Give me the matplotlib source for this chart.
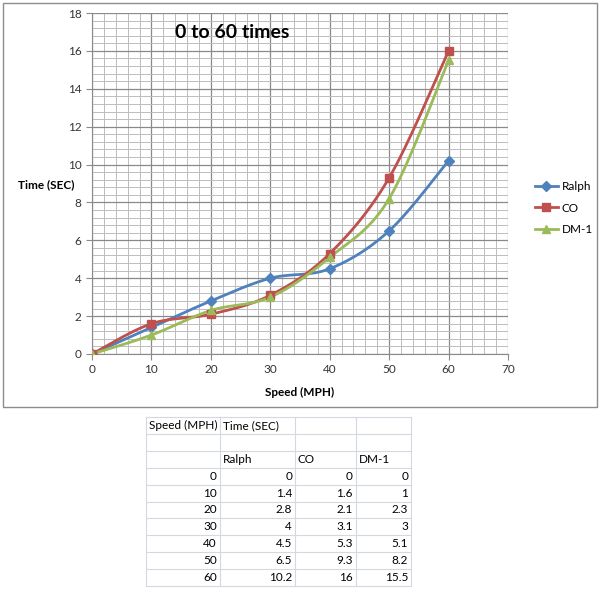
import numpy as np
import matplotlib
matplotlib.use("Agg")
import matplotlib.pyplot as plt
from matplotlib.patches import Rectangle

plt.rcParams['font.family'] = ['Lato', 'DejaVu Sans']

# data from the sheet
speed = [0, 10, 20, 30, 40, 50, 60]
ralph = [0, 1.4, 2.8, 4, 4.5, 6.5, 10.2]
co = [0, 1.6, 2.1, 3.1, 5.3, 9.3, 16]
dm1 = [0, 1, 2.3, 3, 5.1, 8.2, 15.5]
series_names = ['Ralph', 'CO', 'DM-1']
colors = ['#4F81BD', '#C0504D', '#9BBB59']
markers = ['D', 's', '^']


def smooth(x, y, n=30):
    # Excel style smoothed line (Catmull-Rom / bezier through the points)
    x = np.asarray(x, float)
    y = np.asarray(y, float)
    px = np.concatenate([[x[0]], x, [x[-1]]])
    py = np.concatenate([[y[0]], y, [y[-1]]])
    xs, ys = [], []
    for i in range(1, len(px) - 2):
        p0 = np.array([px[i], py[i]])
        p3 = np.array([px[i + 1], py[i + 1]])
        p1 = p0 + (np.array([px[i + 1], py[i + 1]]) - np.array([px[i - 1], py[i - 1]])) / 6
        p2 = p3 - (np.array([px[i + 2], py[i + 2]]) - np.array([px[i], py[i]])) / 6
        t = np.linspace(0, 1, n)[:, None]
        pts = (1 - t) ** 3 * p0 + 3 * (1 - t) ** 2 * t * p1 + 3 * (1 - t) * t ** 2 * p2 + t ** 3 * p3
        xs.extend(pts[:, 0])
        ys.extend(pts[:, 1])
    return xs, ys


W, H = 603, 600
fig = plt.figure(figsize=(W / 100, H / 100), dpi=100)

# background layer in pixel coords (chart frame + sheet table)
bg = fig.add_axes([0, 0, 1, 1])
bg.set_xlim(0, W)
bg.set_ylim(H, 0)
bg.axis('off')
bg.add_patch(Rectangle((3, 3), 594, 404, fill=False, edgecolor='#8c8c8c', lw=1))

# table
col_x = [146, 220, 295, 356, 411]
row_h = 16.9
top = 417
n_rows = 10
for i in range(n_rows + 1):
    bg.plot([col_x[0], col_x[-1]], [top + i * row_h] * 2, color='#d4d8e0', lw=0.8)
for cx in col_x:
    bg.plot([cx, cx], [top, top + n_rows * row_h], color='#d4d8e0', lw=0.8)
fs = 8.5
bg.text(col_x[0] + 3, top + row_h / 2, 'Speed (MPH)', va='center', fontsize=fs)
bg.text(col_x[1] + 3, top + row_h / 2, 'Time (SEC)', va='center', fontsize=fs)
for j, name in enumerate(series_names):
    bg.text(col_x[j + 1] + 3, top + 2.5 * row_h, name, va='center', fontsize=fs)
for i, s in enumerate(speed):
    yy = top + (3.5 + i) * row_h
    row = [s, ralph[i], co[i], dm1[i]]
    for j, v in enumerate(row):
        bg.text(col_x[j + 1] - 3, yy, f'{v:g}', va='center', ha='right', fontsize=fs)

# chart
ax = fig.add_axes([92 / W, 1 - 354 / H, (508 - 92) / W, (354 - 13) / H])
for ys, name, c, m in zip([ralph, co, dm1], series_names, colors, markers):
    ms = 5 if m == 'D' else 6
    sx, sy = smooth(speed, ys)
    ax.plot(sx, sy, color=c, lw=2, zorder=3)
    ax.plot(speed, ys, ls='none', marker=m, color=c, ms=ms, zorder=4)
    ax.plot([], [], color=c, lw=2, marker=m, ms=ms, label=name)

ax.set_xlim(0, 70)
ax.set_ylim(0, 18)
ax.set_xticks(np.arange(0, 71, 10))
ax.set_yticks(np.arange(0, 19, 2))
ax.set_xticks(np.arange(0, 71, 2), minor=True)
ax.set_yticks(np.arange(0, 18.01, 0.4), minor=True)
ax.grid(which='major', color='#8a8a8a', lw=0.9)
ax.grid(which='minor', color='#bcbcbc', lw=0.7)
ax.set_axisbelow(True)
for sp in ['top', 'right']:
    ax.spines[sp].set_visible(False)
for sp in ['left', 'bottom']:
    ax.spines[sp].set_color('#8a8a8a')
ax.tick_params(which='minor', length=0)
ax.tick_params(which='major', length=4, color='#8a8a8a', labelsize=8.5, labelcolor='#333333')

ax.set_xlabel('Speed (MPH)', fontsize=8.5, fontweight='bold', labelpad=8)
fig.text(18 / W, 1 - 185 / H, 'Time (SEC)', fontsize=8.5, fontweight='bold', va='center')
ax.text(175 / W, 1 - 33 / H, '0 to 60 times', transform=fig.transFigure,
        fontsize=14, fontweight='bold', va='center')

fig.legend(loc='center left', bbox_to_anchor=(524 / W, 1 - 208 / H), frameon=False,
           fontsize=8.5, handlelength=2.0, handletextpad=0.3, labelspacing=0.9)

fig.savefig('out.png', dpi=100)
